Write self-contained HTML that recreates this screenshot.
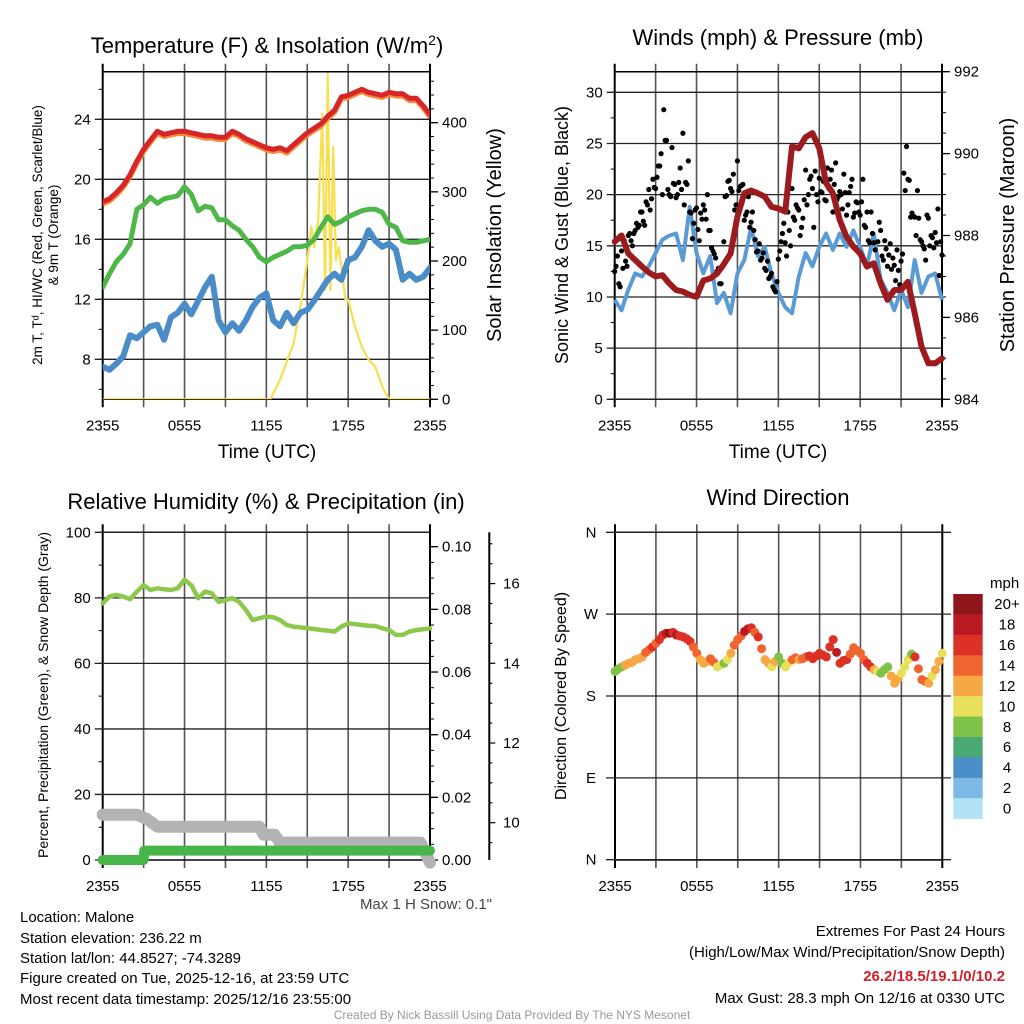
<!DOCTYPE html>
<html><head><meta charset="utf-8">
<style>
html,body{margin:0;padding:0;background:#fff;}
svg{display:block;font-family:"Liberation Sans",sans-serif;}
</style></head>
<body>
<svg id="fig" width="1024" height="1024" viewBox="0 0 1024 1024" xmlns="http://www.w3.org/2000/svg">
<rect width="1024" height="1024" fill="#fff"/>
<g id="p1"></g>
<g id="p2"></g>
<g id="p3"></g>
<g id="p4"></g>
<text x="267" y="53" font-size="22" text-anchor="middle">Temperature (F) &amp; Insolation (W/m<tspan dy="-8" font-size="14">2</tspan><tspan dy="8">)</tspan></text>
<text x="778" y="45" font-size="22" text-anchor="middle">Winds (mph) &amp; Pressure (mb)</text>
<text x="266" y="509" font-size="22" text-anchor="middle">Relative Humidity (%) &amp; Precipitation (in)</text>
<text x="778" y="505" font-size="22" text-anchor="middle">Wind Direction</text>
<g font-size="15">
<text x="20" y="922">Location: Malone</text>
<text x="20" y="943">Station elevation: 236.22 m</text>
<text x="20" y="963">Station lat/lon: 44.8527; -74.3289</text>
<text x="20" y="983">Figure created on Tue, 2025-12-16, at 23:59 UTC</text>
<text x="20" y="1004">Most recent data timestamp: 2025/12/16 23:55:00</text>
</g>
<g font-size="15" text-anchor="end">
<text x="1005" y="936">Extremes For Past 24 Hours</text>
<text x="1005" y="957">(High/Low/Max Wind/Precipitation/Snow Depth)</text>
<text x="1005" y="981" fill="#d0202a" font-weight="bold">26.2/18.5/19.1/0/10.2</text>
<text x="1005" y="1003">Max Gust: 28.3 mph On 12/16 at 0330 UTC</text>
</g>
<text x="492" y="909" font-size="15" fill="#444" text-anchor="end">Max 1 H Snow: 0.1"</text>
<text x="512" y="1019" font-size="12" fill="#999" text-anchor="middle">Created By Nick Bassill Using Data Provided By The NYS Mesonet</text>
</svg>
<script>
// ---------- DATA ----------
const xTickLabels = ["2355","0555","1155","1755","2355"];
const tHalf = []; for (let i=0;i<=48;i++) tHalf.push(i*0.5);
const tempF = [18.5,18.7,19.1,19.6,20.3,21.2,22.0,22.6,23.2,23.0,23.1,23.2,23.2,23.1,23.0,22.9,22.9,22.8,22.8,23.2,23.0,22.7,22.5,22.3,22.1,22.0,22.1,21.9,22.3,22.7,23.1,23.4,23.7,24.2,24.6,25.5,25.6,25.8,26.0,25.8,25.7,25.6,25.8,25.7,25.7,25.4,25.4,24.9,24.3];
const dewF = [12.8,13.7,14.5,15.0,15.7,18.0,18.3,18.8,18.4,18.7,18.8,18.9,19.5,19.0,17.9,18.2,18.1,17.3,17.3,16.9,16.6,16.0,15.5,14.8,14.5,14.8,15.0,15.2,15.5,15.5,15.6,16.0,16.8,17.5,17.0,17.2,17.5,17.7,17.9,18.0,18.0,17.8,17.0,16.8,15.9,15.8,15.8,15.9,16.0];
const chillF = [7.5,7.3,7.7,8.2,9.6,9.4,9.8,10.2,10.3,9.3,10.8,11.1,11.7,11.0,11.9,12.8,13.5,10.6,9.8,10.4,9.9,10.6,11.5,12.1,12.4,10.6,10.2,11.1,10.4,11.1,11.3,11.9,12.6,13.3,13.7,13.3,14.6,14.8,15.5,16.6,15.9,15.5,15.7,15.3,13.3,13.7,13.3,13.5,14.1];
const tSolar = [0,12.3,13,14,14.5,15,15.3,15.5,15.8,16.1,16.3,16.5,16.7,16.9,17.1,17.3,17.5,17.8,18,18.5,19,19.5,20,20.5,21,24];
const solarW = [0,0,28,81,134,201,250,220,260,413,158,471,158,365,201,220,192,144,144,105,76,57,47,18,0,0];

const windMph = [9.7,8.7,10.7,12.3,12,13,14.3,15.6,16,16.2,13.6,18.8,14.3,12.3,14,9.4,10.4,8.4,12.3,13.6,16.8,14,14.9,12.3,10.4,9,8.4,12,14.3,13,14.9,16.2,14.6,16.2,14.9,16.5,14.9,13,16.2,11.7,10.4,8.7,10.7,9,13.6,10.4,12,12.3,9.7];
const pressMb = [987.85,988.0,987.56,987.4,987.24,987.1,987.0,987.03,986.83,986.67,986.63,986.55,986.5,986.9,986.95,987.07,987.3,987.56,988.46,989.03,989.1,989.03,988.95,988.7,988.66,988.58,990.17,990.13,990.4,990.5,990.13,989.28,989.03,988.38,987.97,987.73,987.56,987.24,987.32,986.83,986.43,986.67,986.67,986.87,986.1,985.29,984.88,984.88,985.0];
const gustA = [12.5,14,11,12.8,13.5,16,15.5,16.2,17.2,17,18.3,17,19,18.5,21.5,20.6,22.8,24,28.3,25.3,20,24.6,21,20,22.6,26,21.2,23.3,18.2,17.2,18.7,15.5,17.6,18.5,20,16.5,14.5,13.8,12.8,11.3,15.4,19.9,21.4,20.3,18.5,23.3,20.8,21,18,19.8,17.3,16.5,14.4,15.2,13.8,12.8,13.5,12,11,10.5,13.7,15.4,17.2,14,16.5,20.6,17.5,18.7,16,17.7,22.4,20,21.8,16.8,20,21.6,20.2,19.5,22.6,21.5,18.3,23.1,19.8,20,22,18,20.2,21.5,18.2,19.2,18,21.5,16.8,15.5,18.3,15.3,12.5,17.3,14,15.5,13,15.2,13.8,11.6,12.6,13.5,22.1,24.7,21.4,18.2,17.8,20.4,15.6,15,13.6,17.7,16,14.8,15.3,12.1,14.1];
const gustB = [13,11.3,14.5,15.5,13,16.2,15,16.5,16.8,18.3,17.4,19.3,20.5,19.6,20.7,21.7,22.8,20,25.3,20.5,19.8,21.1,19.7,21.2,20.5,19,21,18.3,15.7,18.5,16.6,18.2,19,17.6,16.5,14.8,14.2,12.5,11.3,13,19.8,21.3,20.6,22,19,20.4,20.9,17.5,18.3,16.8,18.3,15.6,14.5,13.6,14.3,12.6,11.8,12.3,10.7,11.5,14.5,16.2,15.3,18.3,15,17.8,19,18.5,16.8,19.5,19,21.5,20.6,22.3,19.3,20.3,21.3,19.4,20.6,22.4,21,19.5,20.3,18.6,20.2,19,20.8,17.8,19.3,18.3,19.3,17,18.3,15.3,16.2,14.6,15.4,16.5,13.6,14.7,14.1,12.7,13.1,14.6,11.2,14.2,20.4,21.5,17.8,17.9,16,17.7,15.4,14.7,18,15,15.8,16.3,18.6,15.4];

const rhPct = [78.3,80.4,80.9,80.4,79.6,81.9,83.9,82.4,82.9,82.6,82.4,82.9,85.5,83.9,79.9,81.9,81.4,78.8,79.3,79.9,78.8,76.3,73.2,73.8,74.3,74.1,73.2,71.7,71.2,71.0,70.7,70.5,70.2,70.0,69.7,71.2,72.2,72.0,71.7,71.5,71.4,70.7,70.2,68.7,68.7,69.7,70.2,70.4,70.7];
const tSnow = [0,2.5,3.2,4.0,11.5,11.8,12.6,13.0,23.3,24];
const snowIn = [10.2,10.2,10.1,9.9,9.9,9.7,9.7,9.5,9.5,9.0];
const tPrecip = [0,3,3.05,24];
const precipIn = [0,0,0.003,0.003];

const dirDeg = [207,210,212,214,216,217,220,221,223,228,231,234,238,242,247,249,249,250,247,246,245,243,240,234,227,220,216,218,221,217,212,214,216,220,227,236,242,246,251,254,255,250,245,232,220,216,212,218,223,216,212,217,220,222,220,221,223,224,221,224,227,225,223,234,242,228,216,219,220,226,233,230,227,220,216,212,209,207,205,209,212,202,194,199,205,212,220,226,223,210,198,196,194,202,209,218,227];
const dirSpeed = [9,8,8,12,12,12,13,12,13,14,14,16,15,16,17,19,20,17,18,16,17,16,17,15,14,12,12,13,14,14,11,10,9,10,12,14,14,15,18,18,17,14,16,15,12,12,11,12,8,8,11,10,14,14,13,15,15,16,16,16,17,16,16,16,17,18,17,16,16,15,14,15,15,15,16,16,12,11,8,9,8,12,13,12,10,10,11,9,16,14,14,15,13,10,12,12,10];
const speedLabels = ["20+","18","16","14","12","10","8","6","4","2","0"];
const speedColors = ["#8e1518","#ba1b22","#dd3128","#f0642f","#f6a845","#e6e05a","#7fc24a","#4aa872","#4a8fc7","#7db9e4","#b3e2f7"];

// ---------- HELPERS ----------
const NS="http://www.w3.org/2000/svg";
function mk(tag, parent, attrs){const e=document.createElementNS(NS,tag);for(const k in attrs)e.setAttribute(k,attrs[k]);parent.appendChild(e);return e;}
function lin(d0,d1,r0,r1){return v=>r0+(v-d0)*(r1-r0)/(d1-d0);}
function pathD(xs,ys,fx,fy){return xs.map((x,i)=>(i?"L":"M")+fx(x).toFixed(1)+","+fy(ys[i]).toFixed(1)).join("");}

function frame(g, X0,X1,Y0,Y1, fx){
  for(let h=0;h<=24;h+=3){
    const x=fx(h);
    const l=mk("line",g,{x1:x,y1:Y0-8,x2:x,y2:Y1+8,stroke:(h===0||h===24)?"#000":"#555","stroke-width":(h===0||h===24)?2:1.6});
    
    
  }
  for(let i=0;i<xTickLabels.length;i++){
    const t=mk("text",g,{x:fx(i*6),y:Y1+31,"font-size":15,"text-anchor":"middle"});
    t.textContent=xTickLabels[i];
    
    
  }
  mk("line",g,{x1:X0,y1:Y0,x2:X1,y2:Y0,stroke:"#000","stroke-width":1.5});
  mk("line",g,{x1:X0,y1:Y1,x2:X1,y2:Y1,stroke:"#000","stroke-width":1.5});
}
function leftAxis(g,X0,X1,fy,d0,d1,major,minor,fmt,grid,m0,m1){
  const a=(m0===undefined)?d0:m0, b=(m1===undefined)?d1:m1;
  for(let v=a;v<=b+1e-9;v+=minor){ const y=fy(v); mk("line",g,{x1:X0-4,y1:y,x2:X0,y2:y,stroke:"#000","stroke-width":1}); }
  for(let v=d0;v<=d1+1e-9;v+=major){
    const y=fy(v);
    const l=mk("line",g,{x1:X0-8,y1:y,x2:grid?X1:X0,y2:y,stroke:"#222","stroke-width":1.3});
    
    
    const t=mk("text",g,{x:X0-12,y:y+5,"font-size":15,"text-anchor":"end"});
    t.textContent=fmt(v);
    
    
  }
}
function rightAxis(g,X,fy,d0,d1,major,minor,fmt,Yt,Yb,lineToo){
  if(lineToo) mk("line",g,{x1:X,y1:Yt,x2:X,y2:Yb,stroke:"#000","stroke-width":2});
  for(let v=d0;v<=d1+1e-9;v+=minor){ const y=fy(v); if(y<Yt-1||y>Yb+1)continue; mk("line",g,{x1:X,y1:y,x2:X+4,y2:y,stroke:"#000","stroke-width":1}); }
  for(let v=d0;v<=d1+1e-9;v+=major){
    const y=fy(v);
    if(y<Yt-1||y>Yb+1)continue;
    mk("line",g,{x1:X,y1:y,x2:X+8,y2:y,stroke:"#000","stroke-width":1.3});
    const t=mk("text",g,{x:X+12,y:y+5,"font-size":15,"text-anchor":"start"});
    t.textContent=fmt(v);
    
    
  }
}
function vtitle(g,x,y,size,txt,name){
  const t=mk("text",g,{x:x,y:y,"font-size":size,"text-anchor":"middle",transform:`rotate(-90 ${x} ${y})`});
  t.textContent=txt;
  
  
  return t;
}

// ---------- PANEL 1 ----------
(function(){
  const g=document.getElementById("p1");
  const X0=102.7,X1=430,Y0=71.7,Y1=399.3;
  const fx=lin(0,24,X0,X1), fy=lin(8,24,359.3,119.3), fs=lin(0,400,399.3,122.7);
  frame(g,X0,X1,Y0,Y1,fx);
  leftAxis(g,X0,X1,fy,8,24,4,2,v=>String(v),true,6,26);
  rightAxis(g,X1,fs,0,460,100,20,v=>String(v),Y0,Y1,false);
  vtitle(g,42,235,13.5,"2m T, T\u1d48, HI/WC (Red, Green, Scarlet/Blue)","left-axis-title-line1");
  vtitle(g,58,235,13.5,"& 9m T (Orange)","left-axis-title-line2");
  vtitle(g,501,235,20,"Solar Insolation (Yellow)","right-axis-title");
  const xt=mk("text",g,{x:267,y:458,"font-size":19,"text-anchor":"middle"}); xt.textContent="Time (UTC)";
   
  const clip=mk("clipPath",g,{id:"c1"}); mk("rect",clip,{x:X0,y:Y0-2,width:X1-X0,height:Y1-Y0+2});
  const s=mk("g",g,{"clip-path":"url(#c1)"});
  let p;
  p=mk("path",s,{d:pathD(tSolar,solarW,fx,fs),fill:"none",stroke:"#f7df4f","stroke-width":2.2,"stroke-linejoin":"round"});
   
  p=mk("path",s,{d:pathD(tHalf,chillF,fx,fy),fill:"none",stroke:"#4a8cc8","stroke-width":6,"stroke-linejoin":"round","stroke-linecap":"round"});
   
  p=mk("path",s,{d:pathD(tHalf,dewF,fx,fy),fill:"none",stroke:"#4db848","stroke-width":5,"stroke-linejoin":"round","stroke-linecap":"round"});
   
  p=mk("path",s,{d:pathD(tHalf,tempF.map(v=>v-0.15),fx,fy),fill:"none",stroke:"#f58a3a","stroke-width":5,"stroke-linejoin":"round"});
   
  p=mk("path",s,{d:pathD(tHalf,tempF,fx,fy),fill:"none",stroke:"#d7262a","stroke-width":5,"stroke-linejoin":"round","stroke-linecap":"round"});
   
})();

// ---------- PANEL 2 ----------
(function(){
  const g=document.getElementById("p2");
  const X0=614.7,X1=942,Y0=71.7,Y1=399.3;
  const fx=lin(0,24,X0,X1), fy=lin(0,30,399.3,92.3), fp=lin(984,992,399.3,71.7);
  frame(g,X0,X1,Y0,Y1,fx);
  leftAxis(g,X0,X1,fy,0,30,5,2.5,v=>String(v),true);
  rightAxis(g,X1,fp,984,992,2,0.5,v=>String(v),Y0,Y1,false);
  vtitle(g,568,235,18,"Sonic Wind & Gust (Blue, Black)","left-axis-title");
  vtitle(g,1014,235,20,"Station Pressure (Maroon)","right-axis-title");
  const xt=mk("text",g,{x:778,y:458,"font-size":19,"text-anchor":"middle"}); xt.textContent="Time (UTC)";
   
  let p=mk("path",g,{d:pathD(tHalf,windMph,fx,fy),fill:"none",stroke:"#5b9bd5","stroke-width":4,"stroke-linejoin":"round"});
   
  for(let i=0;i<gustA.length;i++){
    const c=mk("circle",g,{cx:fx(i*0.2),cy:fy(gustA[i]),r:2.6,fill:"#000"});
    
    
  }
  for(let i=0;i<gustB.length;i++){
    const c=mk("circle",g,{cx:fx(0.1+i*0.2),cy:fy(gustB[i]),r:2.6,fill:"#000"});
    
    
  }
  p=mk("path",g,{d:pathD(tHalf,pressMb,fx,fp),fill:"none",stroke:"#9b1b1e","stroke-width":6,"stroke-linejoin":"round","stroke-linecap":"round"});
   
})();

// ---------- PANEL 3 ----------
(function(){
  const g=document.getElementById("p3");
  const X0=102.7,X1=430,Y0=532.3,Y1=860;
  const fx=lin(0,24,X0,X1), fy=lin(0,100,860,532.3), fpr=lin(0,0.1,860,546.7), fsn=lin(10,16,822.7,583.6);
  frame(g,X0,X1,Y0,Y1,fx);
  leftAxis(g,X0,X1,fy,0,100,20,10,v=>String(v),true);
  rightAxis(g,X1,fpr,0,0.1,0.02,0.005,v=>v.toFixed(2),Y0,Y1,true);
  const X2=489.3;
  mk("line",g,{x1:X2,y1:532.3,x2:X2,y2:860,stroke:"#000","stroke-width":2});
  for(let v=9.5;v<=17;v+=0.5){const y=fsn(v);mk("line",g,{x1:X2,y1:y,x2:X2+(Math.abs(v%2)<1e-9?6:3),y2:y,stroke:"#000","stroke-width":1.2});}
  for(let v=10;v<=16;v+=2){
    const t=mk("text",g,{x:503,y:fsn(v)+5,"font-size":15});
    t.textContent=String(v);
    
    
  }
  vtitle(g,48,695,14,"Percent, Precipitation (Green), & Snow Depth (Gray)","left-axis-title");
  let p=mk("path",g,{d:pathD(tSnow,snowIn,fx,fsn),fill:"none",stroke:"#b3b3b3","stroke-width":12,"stroke-linejoin":"round","stroke-linecap":"round"});
   
  p=mk("path",g,{d:pathD(tPrecip,precipIn,fx,fpr),fill:"none",stroke:"#48b549","stroke-width":10,"stroke-linejoin":"round","stroke-linecap":"round"});
   
  p=mk("path",g,{d:pathD(tHalf,rhPct,fx,fy),fill:"none",stroke:"#8dc84c","stroke-width":4.5,"stroke-linejoin":"round","stroke-linecap":"round"});
   
})();

// ---------- PANEL 4 ----------
(function(){
  const g=document.getElementById("p4");
  const X0=615,X1=942.3,Y0=532.3,Y1=860;
  const fx=lin(0,24,X0,X1), fy=lin(180,360,696,532.3);
  frame(g,X0,X1,Y0,Y1,fx);
  const dirLabels=["N","E","S","W","N"];
  for(let i=0;i<5;i++){
    const y=fy(i*90);
    mk("line",g,{x1:606,y1:y,x2:951,y2:y,stroke:"#222","stroke-width":1.3});
    const t=mk("text",g,{x:591,y:y+5,"font-size":15,"text-anchor":"middle"});
    t.textContent=dirLabels[i];
    
    
  }
  vtitle(g,566,696,16,"Direction (Colored By Speed)","left-axis-title");
  for(let i=0;i<dirDeg.length;i++){
    const bin=Math.min(10,Math.floor(dirSpeed[i]/2));
    const c=mk("circle",g,{cx:fx(i*0.25),cy:fy(dirDeg[i]),r:4.5,fill:speedColors[10-bin]});
    
    
  }
  const lg=mk("g",g,{});
  
  
  const t0=mk("text",lg,{x:990,y:588,"font-size":15}); t0.textContent="mph";
  const bh=(818.7-594)/11;
  for(let i=0;i<11;i++){
    const r=mk("rect",lg,{x:953.3,y:594+i*bh,width:29.4,height:bh+0.3,fill:speedColors[i]});
    
    
    const t=mk("text",lg,{x:1007,y:594+i*bh+bh/2+5,"font-size":15,"text-anchor":"middle"});
    t.textContent=speedLabels[i];
    
    
  }
})();
</script>
</body></html>
